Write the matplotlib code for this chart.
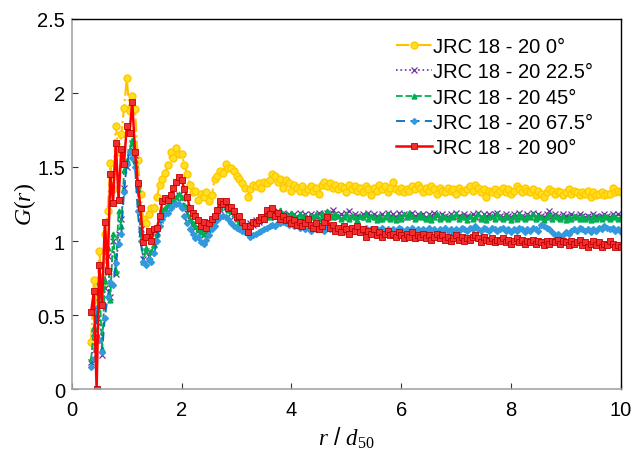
import numpy as np
import matplotlib.pyplot as plt
from matplotlib.ticker import FuncFormatter

plt.rcParams['font.family'] = ['Liberation Sans', 'DejaVu Sans']
plt.rcParams['mathtext.fontset'] = 'custom'
plt.rcParams['mathtext.rm'] = 'Liberation Serif'
plt.rcParams['mathtext.it'] = 'Liberation Serif:italic'

# r/d50 sampling grid (0.35 ... 10.0, every 0.05)
r = np.round(np.arange(0.35, 10.0001, 0.05), 2)

g_0 = [0.32, 0.74, 0.60, 0.93, 0.70, 1.05, 1.20, 1.53, 1.35, 1.78,
       1.60, 1.72, 1.90, 2.10, 1.88, 1.98, 1.89, 1.55, 1.32, 1.15,
       1.12, 1.18, 1.22, 1.22, 1.30, 1.38, 1.42, 1.46, 1.51, 1.60,
       1.56, 1.63, 1.59, 1.59, 1.51, 1.45, 1.38, 1.33, 1.34, 1.28,
       1.32, 1.30, 1.33, 1.27, 1.31, 1.42, 1.44, 1.47, 1.46, 1.52,
       1.49, 1.49, 1.47, 1.44, 1.42, 1.39, 1.36, 1.30, 1.35, 1.38,
       1.37, 1.39, 1.36, 1.40, 1.39, 1.41, 1.45, 1.44, 1.40, 1.42,
       1.36, 1.41, 1.39, 1.34, 1.38, 1.36, 1.34, 1.37, 1.33, 1.35,
       1.37, 1.34, 1.36, 1.32, 1.38, 1.40, 1.37, 1.39, 1.36, 1.38,
       1.35, 1.37, 1.36, 1.33, 1.38, 1.35, 1.37, 1.34, 1.36, 1.33,
       1.37, 1.35, 1.31, 1.36, 1.34, 1.38, 1.35, 1.37, 1.33, 1.36,
       1.40, 1.35, 1.34, 1.36, 1.33, 1.35, 1.34, 1.37, 1.35, 1.38,
       1.36, 1.33, 1.36, 1.34, 1.37, 1.35, 1.32, 1.36, 1.34, 1.33,
       1.36, 1.34, 1.35, 1.32, 1.36, 1.34, 1.33, 1.35, 1.37, 1.34,
       1.38, 1.36, 1.33, 1.35, 1.30, 1.34, 1.33, 1.35, 1.32, 1.34,
       1.36, 1.33, 1.35, 1.32, 1.34, 1.37, 1.35, 1.33, 1.36, 1.34,
       1.33, 1.35, 1.31, 1.34, 1.32, 1.30, 1.33, 1.35, 1.34, 1.32,
       1.34, 1.33, 1.31, 1.33, 1.35, 1.32, 1.34, 1.33, 1.31, 1.33,
       1.32, 1.34, 1.30, 1.33, 1.31, 1.32, 1.33, 1.31, 1.32, 1.32,
       1.36, 1.33, 1.34, 1.33]

g_225 = [0.18, 0.38, 0.45, 0.62, 0.23, 0.68, 0.90, 0.62, 1.00, 0.78,
         1.05, 1.15, 1.36, 1.50, 1.60, 1.66, 1.58, 1.38, 1.08, 0.88,
         0.93, 0.90, 0.92, 0.98, 1.06, 1.14, 1.19, 1.21, 1.23, 1.26,
         1.27, 1.29, 1.31, 1.29, 1.23, 1.19, 1.14, 1.11, 1.09, 1.07,
         1.07, 1.04, 1.07, 1.11, 1.12, 1.16, 1.19, 1.21, 1.24, 1.23,
         1.22, 1.19, 1.17, 1.16, 1.12, 1.11, 1.11, 1.09, 1.12, 1.11,
         1.14, 1.13, 1.16, 1.15, 1.18, 1.16, 1.17, 1.18, 1.20, 1.18,
         1.19, 1.17, 1.18, 1.17, 1.18, 1.16, 1.19, 1.17, 1.18, 1.16,
         1.18, 1.17, 1.16, 1.19, 1.17, 1.18, 1.19, 1.17, 1.21, 1.18,
         1.16, 1.18, 1.17, 1.19, 1.20, 1.16, 1.18, 1.17, 1.16, 1.18,
         1.17, 1.19, 1.16, 1.18, 1.17, 1.15, 1.18, 1.16, 1.19, 1.17,
         1.18, 1.16, 1.19, 1.17, 1.18, 1.16, 1.17, 1.19, 1.17, 1.18,
         1.17, 1.18, 1.16, 1.18, 1.17, 1.19, 1.17, 1.16, 1.18, 1.17,
         1.16, 1.18, 1.17, 1.19, 1.17, 1.16, 1.18, 1.17, 1.16, 1.18,
         1.17, 1.19, 1.16, 1.18, 1.17, 1.18, 1.16, 1.18, 1.19, 1.17,
         1.16, 1.18, 1.17, 1.16, 1.18, 1.17, 1.19, 1.17, 1.16, 1.18,
         1.17, 1.19, 1.16, 1.18, 1.17, 1.16, 1.18, 1.20, 1.17, 1.18,
         1.17, 1.16, 1.18, 1.17, 1.16, 1.18, 1.17, 1.16, 1.18, 1.17,
         1.16, 1.17, 1.16, 1.18, 1.17, 1.16, 1.17, 1.18, 1.17, 1.16,
         1.18, 1.17, 1.18, 1.17]

g_45 = [0.20, 0.42, 0.50, 0.72, 0.27, 0.73, 0.95, 0.60, 1.05, 0.80,
        1.20, 1.10, 1.48, 1.55, 1.62, 1.68, 1.55, 1.35, 1.05, 0.86,
        0.95, 0.88, 0.93, 0.97, 1.05, 1.15, 1.20, 1.22, 1.24, 1.25,
        1.28, 1.30, 1.32, 1.30, 1.24, 1.18, 1.15, 1.12, 1.10, 1.08,
        1.06, 1.05, 1.08, 1.10, 1.13, 1.17, 1.20, 1.22, 1.25, 1.24,
        1.21, 1.20, 1.18, 1.15, 1.13, 1.12, 1.10, 1.10, 1.11, 1.12,
        1.13, 1.14, 1.15, 1.16, 1.17, 1.16, 1.18, 1.17, 1.19, 1.21,
        1.17, 1.18, 1.16, 1.19, 1.17, 1.15, 1.18, 1.16, 1.17, 1.15,
        1.17, 1.16, 1.18, 1.15, 1.19, 1.17, 1.20, 1.18, 1.16, 1.18,
        1.17, 1.15, 1.16, 1.18, 1.15, 1.17, 1.16, 1.14, 1.17, 1.16,
        1.18, 1.15, 1.17, 1.16, 1.14, 1.17, 1.15, 1.16, 1.18, 1.15,
        1.16, 1.14, 1.17, 1.15, 1.18, 1.16, 1.19, 1.17, 1.15, 1.16,
        1.18, 1.16, 1.15, 1.17, 1.14, 1.16, 1.18, 1.15, 1.17, 1.16,
        1.15, 1.17, 1.16, 1.18, 1.15, 1.17, 1.16, 1.14, 1.17, 1.15,
        1.16, 1.18, 1.15, 1.17, 1.14, 1.16, 1.17, 1.15, 1.18, 1.16,
        1.15, 1.17, 1.16, 1.14, 1.17, 1.15, 1.18, 1.16, 1.15, 1.17,
        1.16, 1.18, 1.15, 1.17, 1.16, 1.14, 1.16, 1.18, 1.15, 1.17,
        1.16, 1.15, 1.17, 1.14, 1.16, 1.15, 1.17, 1.16, 1.15, 1.17,
        1.15, 1.16, 1.14, 1.17, 1.15, 1.16, 1.15, 1.17, 1.16, 1.15,
        1.17, 1.16, 1.15, 1.16]

g_675 = [0.15, 0.20, 0.55, 0.33, 0.25, 0.48, 0.62, 0.72, 0.70, 0.85,
         0.98, 1.05, 1.33, 1.52, 1.60, 1.56, 1.50, 1.20, 1.00, 0.86,
         0.84, 0.88, 0.86, 0.92, 1.00, 1.10, 1.15, 1.18, 1.19, 1.22,
         1.24, 1.25, 1.25, 1.22, 1.17, 1.12, 1.08, 1.05, 1.02, 1.03,
         0.99, 0.98, 1.01, 1.04, 1.08, 1.10, 1.14, 1.16, 1.17, 1.16,
         1.15, 1.12, 1.10, 1.09, 1.08, 1.07, 1.06, 1.05, 1.03, 1.04,
         1.05, 1.06, 1.07, 1.08, 1.09, 1.10, 1.11, 1.10, 1.12, 1.12,
         1.13, 1.12, 1.11, 1.12, 1.10, 1.11, 1.09, 1.10, 1.08, 1.09,
         1.07, 1.09, 1.08, 1.10, 1.09, 1.07, 1.09, 1.08, 1.10, 1.08,
         1.07, 1.09, 1.08, 1.06, 1.08, 1.09, 1.07, 1.08, 1.06, 1.08,
         1.09, 1.07, 1.08, 1.06, 1.08, 1.07, 1.09, 1.07, 1.08, 1.06,
         1.08, 1.07, 1.09, 1.08, 1.06, 1.08, 1.07, 1.09, 1.07, 1.08,
         1.06, 1.08, 1.07, 1.09, 1.07, 1.08, 1.06, 1.08, 1.07, 1.09,
         1.07, 1.08, 1.06, 1.08, 1.07, 1.09, 1.08, 1.07, 1.09, 1.08,
         1.10, 1.08, 1.07, 1.09, 1.08, 1.07, 1.09, 1.08, 1.07, 1.08,
         1.09, 1.07, 1.08, 1.06, 1.08, 1.07, 1.09, 1.08, 1.06, 1.08,
         1.07, 1.09, 1.08, 1.07, 1.11, 1.10, 1.09, 1.08, 1.06, 1.04,
         1.05, 1.03, 1.04, 1.06, 1.05, 1.07, 1.08, 1.07, 1.09, 1.08,
         1.07, 1.08, 1.06, 1.08, 1.07, 1.09, 1.08, 1.10, 1.09, 1.08,
         1.09, 1.07, 1.08, 1.06]

g_90 = [0.52, 0.66, 0.00, 0.84, 0.57, 1.13, 0.80, 1.45, 1.26, 1.66,
        1.28, 1.62, 1.52, 1.78, 1.73, 1.94, 1.60, 1.39, 1.22, 0.99,
        1.03, 1.07, 1.00, 1.08, 1.09, 1.17, 1.27, 1.29, 1.28, 1.31,
        1.36, 1.40, 1.43, 1.41, 1.35, 1.30, 1.22, 1.19, 1.17, 1.14,
        1.10, 1.13, 1.09, 1.12, 1.15, 1.17, 1.21, 1.27, 1.25, 1.27,
        1.22, 1.23, 1.20, 1.16, 1.17, 1.13, 1.10, 1.06, 1.10, 1.13,
        1.12, 1.14, 1.16, 1.15, 1.21, 1.18, 1.22, 1.17, 1.19, 1.15,
        1.17, 1.14, 1.15, 1.12, 1.14, 1.11, 1.13, 1.10, 1.12, 1.15,
        1.11, 1.09, 1.12, 1.08, 1.10, 1.13, 1.16, 1.09, 1.11, 1.07,
        1.09, 1.06, 1.10, 1.08, 1.05, 1.09, 1.07, 1.10, 1.06, 1.08,
        1.03, 1.07, 1.05, 1.08, 1.04, 1.06, 1.03, 1.05, 1.07, 1.04,
        1.05, 1.03, 1.06, 1.04, 1.02, 1.05, 1.03, 1.06, 1.02, 1.04,
        1.03, 1.05, 1.02, 1.04, 1.01, 1.03, 1.05, 1.02, 1.04, 1.01,
        1.03, 1.00, 1.02, 1.04, 1.01, 1.03, 1.00, 1.02, 1.01, 1.03,
        1.04, 1.02, 0.99, 1.03, 1.01, 1.00, 1.02, 0.99, 1.01, 1.00,
        1.02, 0.99, 1.01, 0.98, 1.00, 1.02, 0.99, 1.01, 0.98, 1.00,
        0.99, 1.01, 0.98, 1.00, 0.99, 0.97, 1.00, 0.98, 1.00, 0.99,
        1.01, 0.98, 1.00, 0.99, 0.97, 1.00, 0.98, 0.99, 1.01, 0.97,
        0.99, 0.96, 0.98, 1.00, 0.97, 0.99, 0.96, 0.98, 0.97, 1.00,
        0.98, 0.96, 0.97, 0.96]

labels = ['JRC 18 - 20 0°', 'JRC 18 - 20 22.5°', 'JRC 18 - 20 45°',
          'JRC 18 - 20 67.5°', 'JRC 18 - 20 90°']

fig = plt.figure(figsize=(6.42, 4.52), dpi=100)
ax = fig.add_axes([0.112, 0.137, 0.855, 0.819])

ax.plot(r, g_0, color='#FFC000', ls='-.', lw=1.5, marker='o', ms=5,
        mfc='#FFE020', mec='#FFC800', label=labels[0])
ax.plot(r, g_225, color='#7030A0', ls=':', lw=1.2, marker='x', ms=4,
        mew=0.9, label=labels[1])
ax.plot(r, g_45, color='#00B050', ls='--', lw=1.3, marker='^', ms=3.5,
        label=labels[2])
ax.plot(r, g_675, color='#0070C0', ls=(0, (5, 3)), lw=1.3, marker='D', ms=3,
        mfc='#3399DD', mec='#3399DD', label=labels[3])
ax.plot(r, g_90, color='#FF0000', ls='-', lw=1.8, marker='s', ms=5,
        mfc='#F03030', mec='#C00000', mew=0.6, label=labels[4])

ax.set_xlim(0, 10)
ax.set_ylim(0, 2.5)
ax.set_xticks([0, 2, 4, 6, 8, 10])
ax.set_yticks([0, 0.5, 1, 1.5, 2, 2.5])
ax.yaxis.set_major_formatter(FuncFormatter(lambda v, p: '%g' % v))
ax.tick_params(direction='in', length=4, labelsize=14.5, colors='#333333',
               labelcolor='black')
ax.tick_params(axis='x', pad=8)
ax.tick_params(axis='y', pad=5)

for side in ['left', 'bottom']:
    ax.spines[side].set_color('#A6A6A6')
    ax.spines[side].set_linewidth(1.2)
for side in ['top', 'right']:
    ax.spines[side].set_color('black')
    ax.spines[side].set_linewidth(1.0)

ax.set_xlabel(r'$r$ / $d_{50}$', fontsize=16.5, labelpad=4)
ax.set_ylabel(r'$G(r)$', fontsize=17, labelpad=-1)

ax.legend(loc='upper right', bbox_to_anchor=(0.976, 0.99), frameon=False,
          fontsize=14.5, handlelength=1.8, handletextpad=0.05,
          labelspacing=0.32, borderaxespad=0.3)

fig.savefig('out.png', dpi=100)
